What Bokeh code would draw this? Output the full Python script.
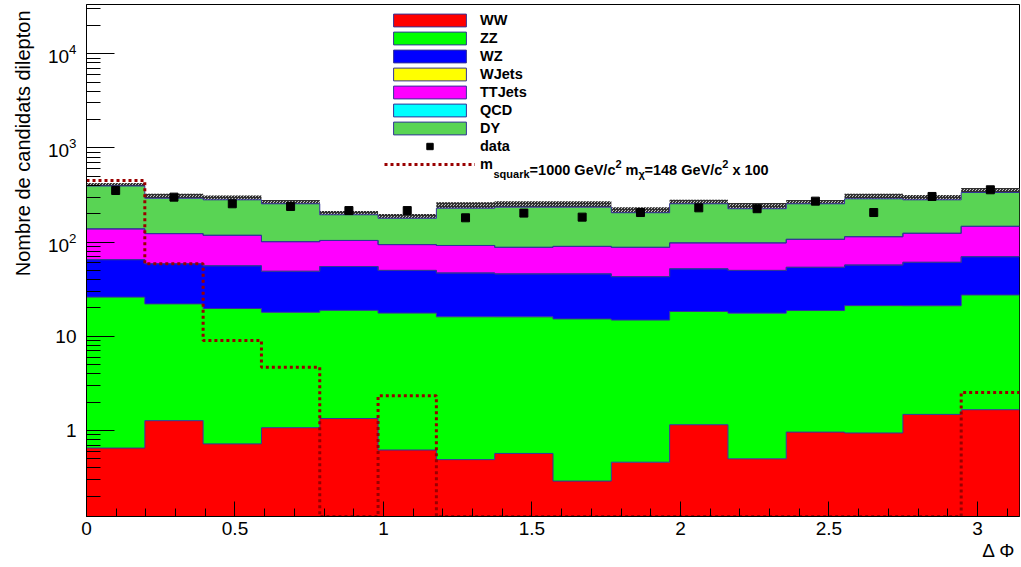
import numpy as np
from bokeh.plotting import figure
from bokeh.models import (Range1d, FixedTicker, LogTickFormatter, Legend,
                          LegendItem, Label, Title)
from bokeh.embed import file_html
from bokeh.resources import INLINE

# ---------------- data ----------------
bin_edges = list(np.linspace(0.0, np.pi, 17))   # 16 bins in Delta Phi

ww     = [0.65, 1.27, 0.72, 1.07, 1.34, 0.62, 0.49, 0.57,
          0.29, 0.46, 1.15, 0.50, 0.96, 0.94, 1.48, 1.66]
zz     = [25.4, 20.8, 19.0, 16.9, 17.5, 17.0, 15.6, 15.5,
          15.0, 14.4, 17.2, 17.1, 17.8, 20.2, 19.6, 25.8]
wz     = [39.0, 36.9, 36.3, 31.0, 36.2, 32.4, 30.9, 29.9,
          30.7, 28.1, 33.7, 32.4, 35.2, 35.9, 39.9, 42.5]
wjets  = [0.0] * 16
ttjets = [73, 64, 62, 52, 49, 44, 45, 42,
          44, 45, 46, 48, 53, 57, 63, 77]
qcd    = [0.0] * 16
dy     = [256, 169, 163, 154, 91, 85, 137, 147,
          145, 117, 157, 128, 148, 174, 157, 189]
stat_err = [30, 33, 31, 25, 19, 20, 35, 36,
            36, 30, 27, 34, 25, 38, 35, 39]
data   = [353, 300, 255, 239, 216, 216, 181, 203,
          184, 206, 231, 226, 272, 206, 305, 359]
signal = [451, 59, 9.0, 4.7, 0, 2.33, 0, 0,
          0, 0, 0, 0, 0, 0, 0, 2.53]

names  = ["WW", "ZZ", "WZ", "WJets", "TTJets", "QCD", "DY"]
series = [ww, zz, wz, wjets, ttjets, qcd, dy]
colors = ["#ff0000", "#00ff00", "#0000ff", "#ffff00", "#ff00ff", "#00ffff", "#59d454"]

x_ticks = [0, 0.5, 1, 1.5, 2, 2.5, 3]
y_title = "Nombre de candidats dilepton"

FONT = "Liberation Sans"
YMIN, YMAX = 0.122, 33300
LINE = "#333399"
SIG = "#990000"

left = bin_edges[:-1]
right = bin_edges[1:]
centers = [(a + b) / 2 for a, b in zip(left, right)]


def step_xy(vals, floor):
    xs, ys = [], []
    for i, v in enumerate(vals):
        v = max(v, floor)
        xs += [bin_edges[i], bin_edges[i + 1]]
        ys += [v, v]
    return xs, ys


def step_band(lo, hi, floor):
    xt, yt = step_xy(hi, floor)
    xb, yb = step_xy(lo, floor)
    return xt + xb[::-1], yt + yb[::-1]


p = figure(width=1021, height=564, y_axis_type="log",
           x_range=Range1d(0, np.pi), y_range=Range1d(YMIN, YMAX),
           output_backend="svg", toolbar_location=None,
           min_border_left=86, min_border_right=2,
           min_border_top=4, min_border_bottom=48)
p.grid.visible = False
p.outline_line_color = "black"
p.outline_line_width = 1
p.background_fill_color = "white"
p.border_fill_color = "white"

# cumulative stack
cum = np.zeros(16)
bottoms, tops = [], []
for vals in series:
    b = cum.copy()
    cum = cum + np.array(vals, dtype=float)
    bottoms.append(np.maximum(b, YMIN))
    tops.append(cum.copy())
total = cum.copy()

legend_renderers = []
for i in range(len(series)):
    bx, by = step_band(bottoms[i], tops[i], YMIN)
    p.patch(bx, by, fill_color=colors[i], line_color=None)
    lr = p.quad(left=left, right=right, bottom=list(bottoms[i]), top=list(tops[i]),
                fill_color=colors[i], line_color=LINE, line_width=1, visible=False)
    legend_renderers.append(lr)

# error band on the total
ex, ey = step_band(total, total + np.array(stat_err), YMIN)
p.patch(ex, ey, fill_color="#c0c0c0", line_color=None,
        hatch_pattern="criss_cross", hatch_color="#303030",
        hatch_scale=3, hatch_weight=1)

for i in range(len(series)):
    xs, ys = step_xy(tops[i], YMIN)
    p.line(xs, ys, line_color=LINE, line_width=1)

sx, sy = step_xy(signal, YMIN)
sig_r = p.line(sx, sy, line_color=SIG, line_width=3, line_dash="3 3")

data_r = p.scatter(centers, data, marker="square", size=8,
                   fill_color="black", line_color="black")

# axes
xa = p.xaxis[0]
xa.ticker = FixedTicker(ticks=x_ticks,
                        minor_ticks=[round(0.1 * k, 1) for k in range(32)])
xa.major_tick_in = 15
xa.major_tick_out = 0
xa.minor_tick_in = 8
xa.minor_tick_out = 0
xa.major_label_standoff = 5
xa.major_label_text_font = FONT
xa.major_label_text_font_size = "19px"
xa.major_label_text_color = "black"
xa.axis_line_color = "black"
xa.major_tick_line_color = "black"
xa.minor_tick_line_color = "black"

ya = p.yaxis[0]
ya.formatter = LogTickFormatter(min_exponent=2)
ya.major_tick_in = 28
ya.major_tick_out = 0
ya.minor_tick_in = 14
ya.minor_tick_out = 0
ya.major_label_standoff = 10
ya.major_label_text_font = FONT
ya.major_label_text_font_size = "19px"
ya.major_label_text_color = "black"
ya.axis_line_color = "black"
ya.major_tick_line_color = "black"
ya.minor_tick_line_color = "black"

p.add_layout(Title(text=y_title, align="right", vertical_align="top",
                   text_font=FONT, text_font_size="20px", text_font_style="normal",
                   text_color="black", standoff=18, offset=6), "left")

# legend
items = [LegendItem(label=n, renderers=[r]) for n, r in zip(names, legend_renderers)]
items.append(LegendItem(label="data", renderers=[data_r]))
items.append(LegendItem(label="m", renderers=[sig_r]))
legend = Legend(items=items, location=(298, 344), orientation="vertical",
                padding=0, margin=0, spacing=1, glyph_width=91, glyph_height=16,
                label_height=17, label_standoff=5,
                label_text_font=FONT, label_text_font_size="14.5px",
                label_text_font_style="bold", label_text_color="black",
                background_fill_alpha=0, border_line_alpha=0)
p.add_layout(legend)

# pieces of the signal legend text (sub/superscripts)
pieces = [
    ("squark", 407.0, 343, "11px"),
    ("=1000 GeV/c", 443.1, 347, "14.5px"),
    ("2", 529.0, 353, "11px"),
    ("m", 539.1, 347, "14.5px"),
    ("\u03c7", 552.0, 343, "11px"),
    ("=148 GeV/c", 558.0, 347, "14.5px"),
    ("2", 635.8, 353, "11px"),
    ("x 100", 645.9, 347, "14.5px"),
]
for txt, x0, y0, fs in pieces:
    p.add_layout(Label(x=x0, y=y0, x_units="screen", y_units="screen", text=txt,
                       text_font=FONT, text_font_size=fs, text_font_style="bold",
                       text_align="left", text_baseline="alphabetic",
                       text_color="black"))

p.add_layout(Title(text="\u0394 \u03a6", align="right",
                   text_font=FONT, text_font_size="19px", text_font_style="normal",
                   text_color="black", standoff=0, offset=4), "below")

open("out.html", "w").write(file_html(p, INLINE))
